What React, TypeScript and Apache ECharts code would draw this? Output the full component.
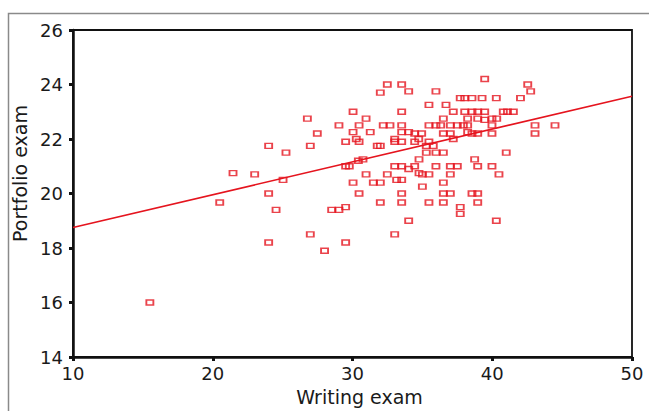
import React, { useEffect, useRef } from "react";
import * as echarts from "echarts";

// Writing exam scores (x) and Portfolio exam scores (y)
const writingScores: number[] = [
  15.5, 20.5, 21.45, 23.0, 24.0, 24.0, 24.0, 24.53, 25.03, 25.24,
  26.77, 26.98, 26.98, 27.48, 28.0, 28.51, 29.03, 29.51, 29.51, 29.03,
  29.51, 29.51, 29.77, 30.04, 30.04, 30.04, 30.27, 30.47, 30.47, 30.47,
  30.75, 30.42, 30.97, 30.97, 31.27, 31.49, 31.77, 31.99, 31.99, 31.99,
  31.99, 32.2, 32.49, 32.49, 32.68, 33.02, 33.02, 33.02, 33.02, 33.16,
  33.52, 33.52, 33.52, 33.52, 33.52, 33.52, 33.52, 33.52, 33.52, 34.02,
  34.02, 34.02, 34.02, 34.45, 34.45, 34.45, 34.74, 34.76, 34.76, 34.95,
  35.0, 35.0, 35.28, 35.28, 35.47, 35.47, 35.47, 35.47, 35.47, 35.78,
  35.97, 35.97, 35.97, 35.97, 36.31, 36.5, 36.5, 36.5, 36.5, 36.5,
  36.5, 36.69, 37.0, 37.0, 37.0, 37.0, 37.0, 37.21, 37.21, 37.5,
  37.5, 37.71, 37.71, 37.71, 37.93, 38.03, 38.03, 38.24, 38.24, 38.24,
  38.55, 38.55, 38.55, 38.55, 38.74, 38.96, 38.96, 38.96, 38.96, 38.96,
  38.96, 39.27, 39.46, 39.46, 39.46, 39.98, 39.98, 39.98, 39.98, 40.29,
  40.29, 40.32, 40.48, 40.79, 41.0, 41.09, 41.51, 42.02, 42.54, 42.75,
  43.06, 43.06, 44.49,
];
const portfolioScores: number[] = [
  16.0, 19.67, 20.75, 20.7, 21.75, 20.0, 18.2, 19.4, 20.5, 21.5,
  22.75, 21.75, 18.5, 22.2, 17.9, 19.4, 19.4, 19.5, 18.2, 22.5,
  21.9, 21.0, 21.0, 23.0, 22.25, 20.4, 22.0, 22.5, 21.9, 20.0,
  21.25, 21.2, 22.75, 20.7, 22.25, 20.4, 21.75, 23.7, 21.75, 20.4,
  19.67, 22.5, 24.0, 20.7, 22.5, 22.0, 21.9, 21.0, 18.5, 20.5,
  24.0, 23.0, 22.5, 22.25, 21.9, 21.0, 20.5, 20.0, 19.67, 23.75,
  22.25, 20.9, 19.0, 22.2, 21.9, 21.0, 22.0, 21.25, 20.75, 22.2,
  20.7, 20.25, 21.75, 21.5, 23.25, 22.5, 21.9, 20.7, 19.67, 21.75,
  23.75, 22.5, 21.5, 21.0, 22.5, 22.75, 22.2, 21.5, 20.4, 20.0,
  19.67, 23.25, 22.5, 22.2, 21.0, 20.7, 20.0, 23.0, 22.0, 22.5,
  21.0, 23.5, 19.5, 19.25, 22.5, 23.5, 23.0, 22.75, 22.5, 22.25,
  23.5, 23.0, 22.2, 20.0, 21.25, 23.0, 22.75, 22.2, 21.0, 20.0,
  19.67, 23.5, 24.2, 23.0, 22.7, 22.75, 22.5, 22.2, 21.0, 23.5,
  19.0, 22.75, 20.7, 23.0, 21.5, 23.0, 23.0, 23.5, 24.0, 23.75,
  22.5, 22.2, 22.5,
];

// Fitted regression line end points
const fitX: number[] = [10, 50];
const fitY: number[] = [18.75, 23.57];

const xTicks = { min: 10, max: 50, interval: 10 };
const yTicks = { min: 14, max: 26, interval: 2 };

const RED = "#e5141e";
const FONT = "DejaVu Sans";
const INK = "#1a1a1a";

export default function App() {
  const ref = useRef<HTMLDivElement>(null);

  useEffect(() => {
    document.body.style.margin = "0";
    if (!ref.current) return;
    const chart = echarts.init(ref.current, undefined, { renderer: "svg" });
    const points = writingScores.map((x, i) => [x, portfolioScores[i]]);
    const line = fitX.map((x, i) => [x, fitY[i]]);

    chart.setOption({
      animation: false,
      backgroundColor: "#ffffff",
      grid: {
        left: 73,
        top: 30,
        right: 17,
        bottom: 51,
        show: true,
        borderColor: "#111",
        borderWidth: 1.8,
        backgroundColor: "transparent",
      },
      graphic: [
        {
          type: "rect",
          silent: true,
          shape: { x: 8.5, y: 13.5, width: 700, height: 500 },
          style: { fill: "none", stroke: "#8a8a8a", lineWidth: 1.5 },
          z: -10,
        },
      ],
      xAxis: {
        type: "value",
        min: xTicks.min,
        max: xTicks.max,
        interval: xTicks.interval,
        name: "Writing exam",
        nameLocation: "middle",
        nameGap: 30,
        nameTextStyle: { fontFamily: FONT, fontSize: 19, color: INK, padding: [0, 0, 0, 14] },
        axisLine: { show: true, lineStyle: { color: "#111", width: 2.5 } },
        axisTick: { show: true, length: 4, lineStyle: { color: "#111", width: 3 } },
        axisLabel: { fontFamily: FONT, fontSize: 18, color: INK, margin: 7 },
        splitLine: { show: false },
      },
      yAxis: {
        type: "value",
        min: yTicks.min,
        max: yTicks.max,
        interval: yTicks.interval,
        name: "Portfolio exam",
        nameLocation: "middle",
        nameGap: 39,
        nameRotate: 90,
        nameTextStyle: { fontFamily: FONT, fontSize: 19, color: INK, padding: [0, 0, 0, 40] },
        axisLine: { show: true, lineStyle: { color: "#111", width: 2.5 } },
        axisTick: { show: true, length: 4, lineStyle: { color: "#111", width: 3 } },
        axisLabel: { fontFamily: FONT, fontSize: 18, color: INK, margin: 10 },
        splitLine: { show: false },
      },
      series: [
        {
          type: "line",
          data: line,
          symbol: "none",
          lineStyle: { color: RED, width: 1.6 },
          z: 2,
        },
        {
          type: "scatter",
          data: points,
          symbol: "rect",
          symbolSize: [7, 5],
          itemStyle: { color: "rgba(0,0,0,0)", borderColor: RED, borderWidth: 1.6 },
          z: 3,
        },
      ],
    });

    return () => chart.dispose();
  }, []);

  return <div ref={ref} style={{ width: 649, height: 411 }} />;
}
